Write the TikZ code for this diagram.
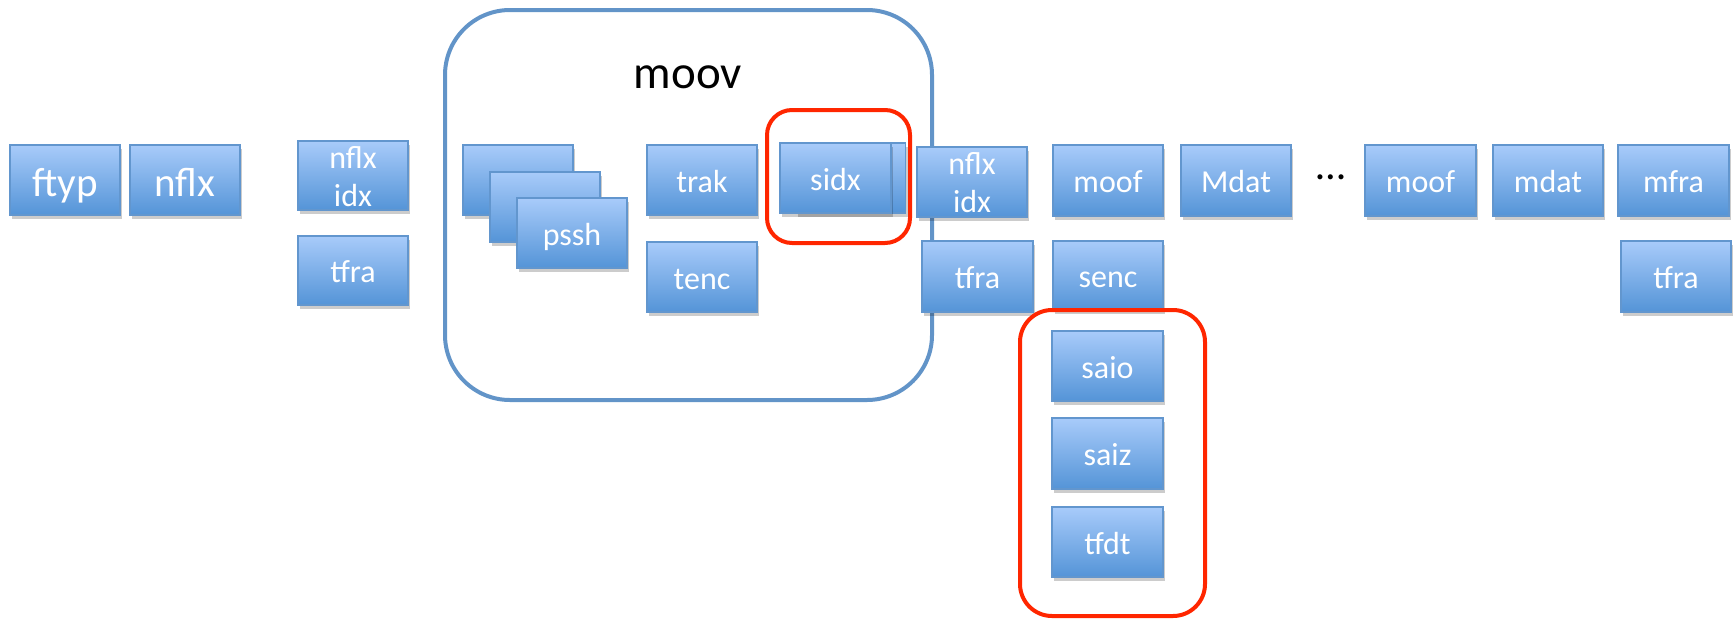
\documentclass[tikz,border=0pt]{standalone}
\usepackage{fontspec}
\setmainfont{Carlito}
\usetikzlibrary{shadows}
\definecolor{boxtop}{RGB}{168,203,250}
\definecolor{boxbot}{RGB}{84,148,215}
\definecolor{boxedge}{RGB}{98,150,206}
\definecolor{moovblue}{RGB}{98,148,200}
\definecolor{hlred}{RGB}{255,38,0}
\newcommand{\twolines}[2]{\vbox{\halign{\hfil##\hfil\cr #1\cr #2\cr}}}
\tikzset{
  bx/.style={draw=boxedge, line width=1.2pt, top color=boxtop, bottom color=boxbot,
    text=white, minimum width=110pt, minimum height=70pt, inner sep=0pt,
    font=\fontsize{32}{38}\selectfont, text height=28pt, text depth=4pt,
    general shadow={fill=black, opacity=0.2, shadow xshift=2pt, shadow yshift=-4pt}},
  bigtxt/.style={font=\fontsize{41}{47}\selectfont, text height=37pt, text depth=4pt},
  twotxt/.style={text height=61pt, text depth=0pt},
  moovframe/.style={draw=moovblue, line width=4pt, rounded corners=65pt},
  hlframe/.style={draw=hlred, line width=4pt},
}
\begin{document}
\begin{tikzpicture}[x=1pt,y=-1pt]
\useasboundingbox (0,0) rectangle (1736,619);
% moov container
\draw[moovframe] (445,10) rectangle (932,400);
\node[anchor=base, font=\fontsize{47}{53}\selectfont, inner sep=0pt] (moov) at (688,88) {moov};
% left boxes
\node[bx,bigtxt] (ftyp) at (65,180) {ftyp};
\node[bx,bigtxt] (nflx) at (185,180) {nflx};
\node[bx,twotxt,minimum height=69pt] (nflxidxA) at (353,175.5) {\twolines{nflx}{idx}};
\node[bx,minimum height=69pt] (tfraA) at (353,270.5) {tfra};
% pssh stack
\node[bx] (psshA) at (518,180) {};
\node[bx] (psshB) at (545,207) {};
\node[bx] (pssh) at (572,233) {pssh};
\node[bx] (trak) at (702,180) {trak};
\node[bx] (tenc) at (702,277) {tenc};
% sidx
\node[bx] (sidxB) at (850.5,178) {};
\node[bx,minimum width=111pt] (sidx) at (835.5,178) {sidx};
% after moov
\node[bx,twotxt] (nflxidxB) at (972,182) {\twolines{nflx}{idx}};
\node[bx,minimum width=111pt,minimum height=71pt] (tfraB) at (977.5,276.5) {tfra};
\node[bx,minimum height=71pt] (moofA) at (1108,180.5) {moof};
\node[bx,minimum height=69pt] (senc) at (1108,275.5) {senc};
\node[bx,minimum height=71pt] (MdatA) at (1236,180.5) {Mdat};
\node[anchor=base, font=\fontsize{42}{48}\selectfont, inner sep=0pt] (dots) at (1331,179) {…};
\node[bx,minimum width=111pt,minimum height=71pt] (moofB) at (1420.5,180.5) {moof};
\node[bx,minimum height=71pt] (mdat) at (1548,180.5) {mdat};
\node[bx,minimum width=111pt,minimum height=71pt] (mfra) at (1673.5,180.5) {mfra};
\node[bx,minimum height=71pt] (tfraC) at (1676,276.5) {tfra};
% saio group
\node[bx,minimum width=111pt] (saio) at (1107.5,366) {saio};
\node[bx,minimum width=111pt,minimum height=71pt] (saiz) at (1107.5,453.5) {saiz};
\node[bx,minimum width=111pt] (tfdt) at (1107.5,542) {tfdt};
% red highlights
\draw[hlframe, rounded corners=25pt] (767,110) rectangle (910,243);
\draw[hlframe, rounded corners=32pt] (1020,310) rectangle (1205,616);
\end{tikzpicture}
\end{document}
